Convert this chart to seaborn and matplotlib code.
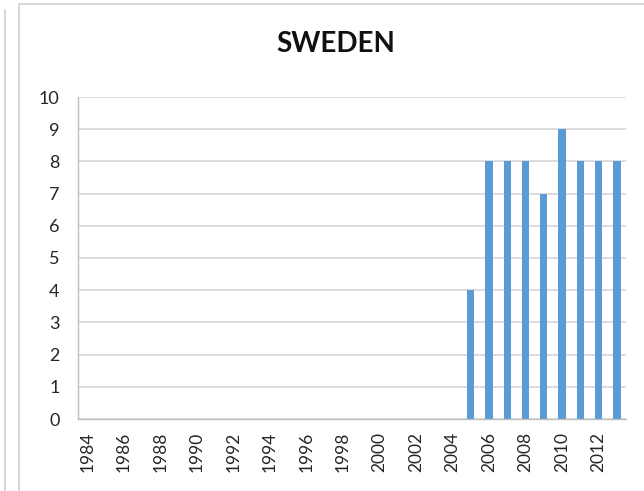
import numpy as np
import pandas as pd
from matplotlib import pyplot as plt
from matplotlib.lines import Line2D
import seaborn as sns

years = list(range(1984, 2014))
bar_years = [2005, 2006, 2007, 2008, 2009, 2010, 2011, 2012, 2013]
bar_values = [4, 8, 8, 8, 7, 9, 8, 8, 8]

counts = dict(zip(bar_years, bar_values))
df = pd.DataFrame({
    "year": [str(y) for y in years],
    "value": [counts.get(y, 0) for y in years],
})

sns.set_theme(style="white")
plt.rcParams["font.family"] = ["Lato", "DejaVu Sans"]

fig = plt.figure(figsize=(6.44, 4.91), dpi=100)
ax = fig.add_axes([78 / 644, 1 - 419 / 491, 548 / 644, 322 / 491])

sns.barplot(data=df, x="year", y="value", order=df["year"], color="#5B9BD5",
            width=0.4, saturation=1, linewidth=0, ax=ax)

ax.set_xlim(-0.5, len(years) - 0.5)
ax.set_ylim(0, 10)
ax.set_yticks(range(0, 11))
ax.yaxis.grid(True, color="#D9D9D9", linewidth=1.3)
ax.set_axisbelow(True)
ax.tick_params(axis="y", length=4.3, color="#BFBFBF", width=1, labelsize=13, pad=9)

# category boundaries as ticks, labels every other year in the middle
ax.set_xticks(np.arange(len(years) + 1) - 0.5)
ax.set_xticklabels([])
ax.set_xticks(np.arange(0, len(years), 2), minor=True)
ax.set_xticklabels([str(y) for y in years[::2]], minor=True, rotation=90)
ax.tick_params(axis="x", which="major", length=4.3, color="#BFBFBF", width=1, direction="out")
ax.tick_params(axis="x", which="minor", length=0, labelsize=12.5, pad=9)
ax.tick_params(labelcolor="#262626")

for side in ["top", "right"]:
    ax.spines[side].set_visible(False)
for side in ["left", "bottom"]:
    ax.spines[side].set_color("#BFBFBF")
    ax.spines[side].set_linewidth(1)

ax.set_xlabel("")
ax.set_ylabel("")

fig.text(336 / 644, 1 - 44 / 491, "SWEDEN", ha="center", va="center",
         fontsize=20, fontweight="bold", color="#111111")

# chart frame lines
fig.add_artist(Line2D([18.5 / 644, 18.5 / 644, 1.0], [0, 1 - 3.5 / 491, 1 - 3.5 / 491],
                      transform=fig.transFigure, color="#D0D0D0", linewidth=1.2))
fig.add_artist(Line2D([4.5 / 644, 4.5 / 644], [0, 1 - 10 / 491],
                      transform=fig.transFigure, color="#D0D0D0", linewidth=1.2))

plt.savefig("out.png", dpi=100)
